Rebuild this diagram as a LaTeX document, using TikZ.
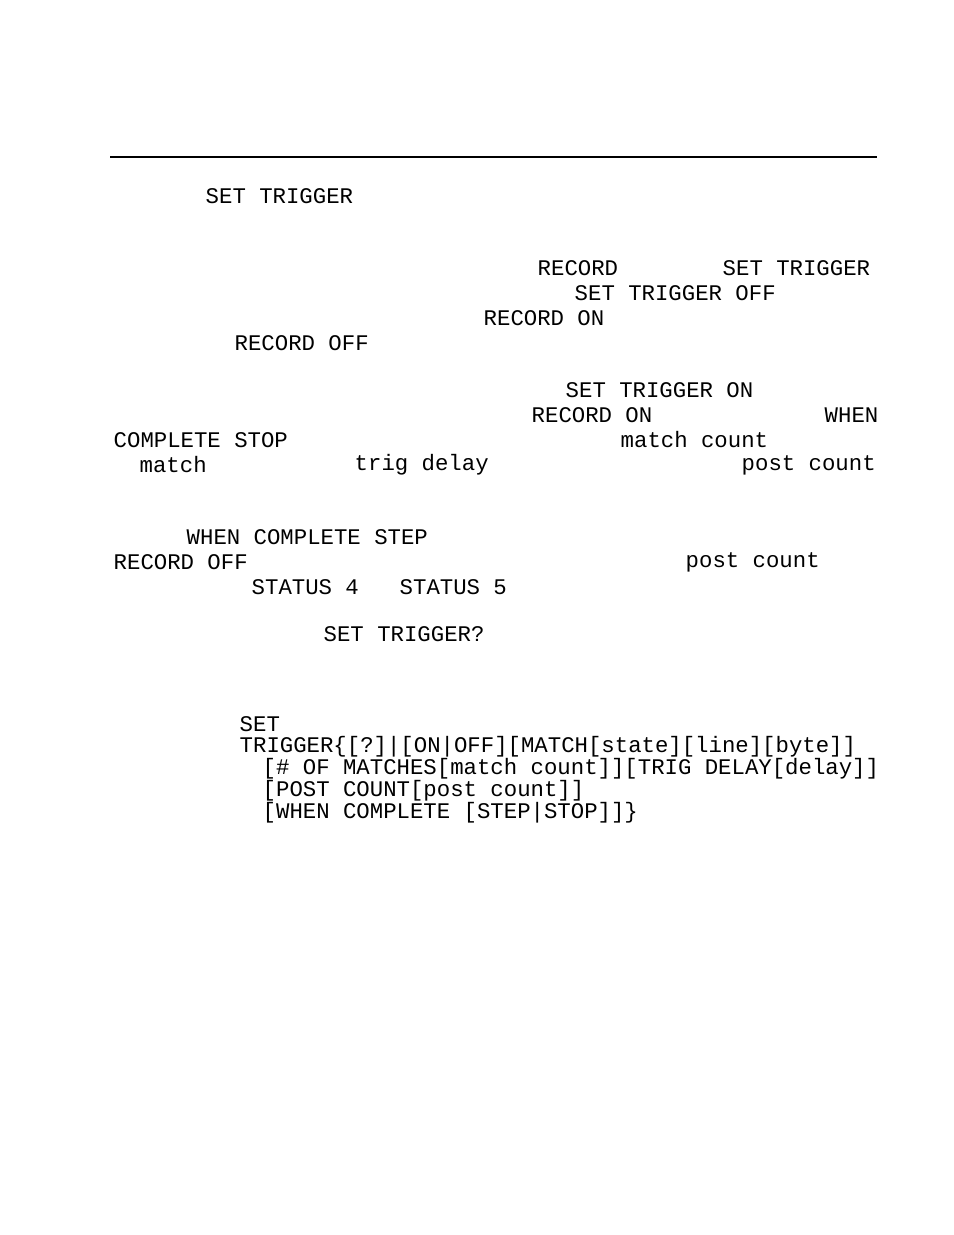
\documentclass[tikz,border=0pt]{standalone}
\usepackage{fontspec}
\setmonofont{Liberation Mono}
\tikzset{
    txt/.style={anchor=west, inner sep=0pt, font=\ttfamily\fontsize{6.35}{7}\selectfont}
}
\begin{document}
\begin{tikzpicture}[x=0.01cm, y=-0.01cm]
    \useasboundingbox (0,0) rectangle (954,1235);
    \coordinate (rl) at (110,157);
    \coordinate (rr) at (877,157);
    \draw[line width=0.6pt] (rl) -- (rr);

    \node[txt] (t1) at (205,196) {SET TRIGGER};
    \node[txt] (t2) at (537,268) {RECORD};
    \node[txt] (t3) at (722,268) {SET TRIGGER};
    \node[txt] (t4) at (574,293) {SET TRIGGER OFF};
    \node[txt] (t5) at (483,318) {RECORD ON};
    \node[txt] (t6) at (234,343) {RECORD OFF};
    \node[txt] (t7) at (565,390) {SET TRIGGER ON};
    \node[txt] (t8) at (531,415) {RECORD ON};
    \node[txt] (t9) at (824,415) {WHEN};
    \node[txt] (t10) at (113,440) {COMPLETE STOP};
    \node[txt] (t11) at (620,440) {match count};
    \node[txt] (t12) at (139,465) {match};
    \node[txt] (t13) at (354,465) {trig delay};
    \node[txt] (t14) at (741,465) {post count};
    \node[txt] (t15) at (186,537) {WHEN COMPLETE STEP};
    \node[txt] (t16) at (113,562) {RECORD OFF};
    \node[txt] (t17) at (685,562) {post count};
    \node[txt] (t18) at (251,587) {STATUS 4};
    \node[txt] (t19) at (399,587) {STATUS 5};
    \node[txt] (t20) at (323,634) {SET TRIGGER?};

    % syntax
    \node[txt] (s1) at (239,724) {SET};
    \node[txt] (s2) at (239,747) {TRIGGER\{[?]|[ON|OFF][MATCH[state][line][byte]]};
    \node[txt] (s3) at (262,769) {[\# OF MATCHES[match count]][TRIG DELAY[delay]]};
    \node[txt] (s4) at (262,791) {[POST COUNT[post count]]};
    \node[txt] (s5) at (262,813) {[WHEN COMPLETE [STEP|STOP]]\}};
\end{tikzpicture}
\end{document}
